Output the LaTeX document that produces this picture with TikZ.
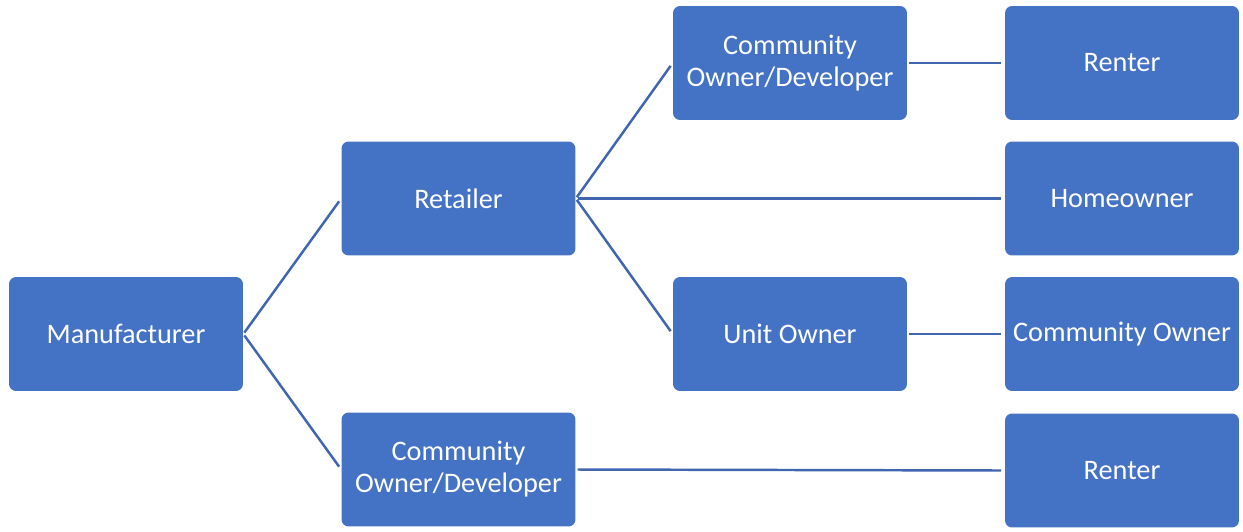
\documentclass[tikz,border=0pt]{standalone}
\usepackage{fontspec}
\setmainfont{Carlito}
\definecolor{boxblue}{HTML}{4472C4}
\definecolor{linkblue}{HTML}{3F66AE}

\begin{document}
\begin{tikzpicture}[
  x=0.02cm, y=-0.02cm,
  party/.style={rectangle, rounded corners=4pt, fill=boxblue,
                minimum width=4.68cm, minimum height=2.28cm, inner sep=1pt,
                align=center, text=white, font=\fontsize{16.1}{18.2}\selectfont},
  link/.style={draw=linkblue, line width=1.4pt, shorten <=1pt, shorten >=2pt},
]
  \useasboundingbox (0,0) rectangle (1243,531);
  \node[party] (man)  at (126,334)    {Manufacturer};
  \node[party] (ret)  at (458.5,198.5) {Retailer};
  \node[party] (cod)  at (458.5,469.5) {Community\\Owner/Developer};
  \node[party] (cod2) at (790,63)     {Community\\Owner/Developer};
  \node[party] (unit) at (790,334)    {Unit Owner};
  \node[party] (rent) at (1122,63)    {Renter};
  \node[party] (home) at (1122,198.5) {Homeowner};
  \node[party] (com)  at (1122,334)   {Community Owner};
  \node[party] (rent2) at (1122,470.5) {Renter};
  \draw[link] (man.east) -- (ret.west);
  \draw[link] (man.east) -- (cod.west);
  \draw[link] (ret.east) -- (cod2.west);
  \draw[link] (ret.east) -- (home.west);
  \draw[link] (ret.east) -- (unit.west);
  \draw[link] (cod2.east) -- (rent.west);
  \draw[link] (unit.east) -- (com.west);
  \draw[link] (cod.east) -- (rent2.west);
\end{tikzpicture}
\end{document}
